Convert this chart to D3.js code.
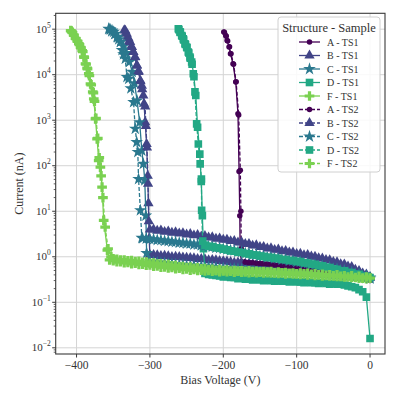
<!DOCTYPE html>
<html>
<head>
<meta charset="utf-8">
<script src="https://cdn.jsdelivr.net/npm/d3@7"></script>
<style>
body { margin: 0; background: #fff; }
text { font-family: "Liberation Serif", "DejaVu Serif", serif; fill: #333; }
</style>
</head>
<body>
<div id="chart"></div>
<script>

// voltage steps of the low-current part of each sweep (V)
const sweepV = [0,-5,-10,-15,-20,-25,-30,-35,-40,-45,-50,-55,-60,-65,-70,-75,-80,-85,-90,-95,
    -100,-105,-110,-115,-120,-125,-130,-135,-140,-145,-150,-155,-160,-165,-170,-175,-180,-185,-190,-195,
    -200,-205,-210,-215,-220,-225,-230,-235,-240,-245,-250,-255,-260,-265,-270,-275,-280,-285,-290,-295,
    -300,-305,-310,-315,-320,-325,-330,-335,-340,-345,-350,-355];

const structures = ["A", "B", "C", "D", "F"];
const samples = ["TS1", "TS2"];
const colors = ["#440154", "#414487", "#2a788e", "#22a884", "#7ad151"];

// current (nA) on the sweep steps, then [V, nA] through breakdown
const aTS1Low = [0.30,0.35,0.36,0.39,0.40,0.42,0.43,0.45,0.44,0.47,0.47,0.48,0.49,0.51,0.50,0.53,0.53,0.56,0.55,0.58,
    0.58,0.60,0.61,0.63,0.62,0.65,0.66,0.68,0.67,0.71,0.70,0.73,0.73,0.76,0.75,0.79];
const aTS1High = [[-177,1.2],[-177.5,8],[-178.5,75],[-180,1380],[-183,6900],[-186.7,17400],[-190.2,28800],
    [-192.1,40700],[-194.8,56200],[-196.6,72400],[-199.3,87100]];
const aTS2Low = [0.32,0.34,0.37,0.38,0.41,0.41,0.44,0.44,0.46,0.46,0.48,0.49,0.49,0.51,0.52,0.52,0.54,0.55,0.57,0.57,
    0.59,0.60,0.60,0.62,0.64,0.64,0.66,0.67,0.69,0.69,0.71,0.72,0.74,0.74,0.76];
const aTS2High = [[-175.5,1.5],[-176,10],[-176.8,80],[-179,1300],[-182.5,7000],[-186,17000],[-189.5,29000],
    [-191.5,41000],[-194,55000],[-196,70000],[-198.5,86000]];

const bTS1Low = [0.35,0.37,0.36,0.39,0.40,0.40,0.42,0.43,0.42,0.45,0.45,0.46,0.47,0.48,0.47,0.50,0.51,0.50,0.53,0.53,
    0.55,0.56,0.57,0.56,0.59,0.60,0.59,0.62,0.63,0.62,0.65,0.66,0.69,0.70,0.70,0.73,0.75,0.74,0.77,0.79,
    0.80,0.81,0.84,0.85,0.84,0.88,0.90,0.89,0.93,0.94,0.95,0.96,0.99,1.00,0.99,1.03,1.05,1.04,1.08,1.09,1.10];
const bTS1High = [[-301,2.5],[-302,15],[-303,60],[-304.5,300],[-306.5,900],[-308,2300],[-310.5,4800],[-313,7200],
    [-315.5,11500],[-318,16000],[-320.5,24000],[-323,32000],[-325.5,42000],[-328,55000],[-330.5,68000],
    [-333,82000],[-335,95000]];
const bTS2Low = [0.35,0.41,0.43,0.49,0.52,0.60,0.61,0.68,0.69,0.76,0.77,0.84,0.85,0.92,0.93,1.00,1.01,1.09,1.08,1.17,
    1.16,1.25,1.24,1.35,1.32,1.44,1.42,1.54,1.52,1.65,1.64,1.79,1.76,1.92,1.91,2.08,2.06,2.23,2.21,2.38,
    2.36,2.54,2.50,2.69,2.65,2.85,2.80,3.00,2.95,3.16,3.09,3.31,3.24,3.46,3.38,3.62,3.53,3.80,3.72,3.99,3.95];
const bTS2High = [[-301.5,6],[-302.5,40],[-304,250],[-305.5,750],[-306.5,2000],[-309,3500],[-311,5700],[-313,7400],
    [-315.5,12000],[-317.5,16000],[-320,24500],[-322.5,31500],[-324.5,40500],[-327,52000],[-329,62000],
    [-331.5,79000],[-333.5,93000]];

const cTS1Low = [0.33,0.34,0.35,0.36,0.36,0.37,0.38,0.37,0.39,0.40,0.40,0.41,0.42,0.42,0.43,0.43,0.44,0.45,0.44,0.45,
    0.46,0.46,0.47,0.48,0.47,0.48,0.49,0.49,0.50,0.50,0.51,0.52,0.51,0.52,0.53,0.53,0.54,0.55,0.54,0.55,
    0.56,0.56,0.58,0.59,0.60,0.60,0.62,0.61,0.63,0.63,0.64,0.66,0.66,0.68,0.69,0.70,0.72,0.73,0.75,0.76,0.78];
const cTS1High = [[-304.5,1.2],[-305.5,8],[-307,48],[-309,110],[-311,215],[-314,900],[-317.5,2700],[-321,6500],
    [-324,11500],[-328,19000],[-332,30000],[-336,42000],[-340,53000],[-344,66000],[-348,78000],[-352,90000],
    [-355.5,100000]];
const cTS2Low = [0.35,0.38,0.38,0.42,0.42,0.46,0.46,0.50,0.50,0.54,0.54,0.58,0.58,0.63,0.62,0.67,0.67,0.72,0.71,0.77,
    0.76,0.82,0.81,0.87,0.86,0.92,0.92,0.98,0.97,1.03,1.03,1.10,1.11,1.19,1.20,1.28,1.29,1.37,1.39,1.46,
    1.48,1.56,1.58,1.66,1.68,1.76,1.78,1.85,1.86,1.94,1.95,2.02,2.03,2.11,2.13,2.21,2.23,2.31,2.33,2.41,
    2.43,2.51,2.53];
const cTS2High = [[-311,2.6],[-313,10.5],[-315.5,51],[-316.5,200],[-318,330],[-320,650],[-322.3,2500],[-326,5000],
    [-329,8100],[-331.3,8900],[-333.6,22400],[-336,28000],[-338,34700],[-340.3,52500],[-342.5,60000],
    [-344.8,67600],[-347.1,79400],[-349.5,87000],[-351.6,93300],[-354,98000],[-356.2,102000]];

const dTS1Low = [0.016,0.13,0.17,0.19,0.21,0.22,0.23,0.24,0.25,0.25,0.26,0.25,0.26,0.27,0.26,0.27,0.27,0.28,0.27,0.28,
    0.28,0.29,0.28,0.29,0.29,0.30,0.29,0.30,0.31,0.30,0.31,0.32,0.31,0.33,0.32,0.34,0.33,0.35,0.35,0.37,
    0.36,0.38,0.39,0.40,0.41,0.43];
const dTS1High = [[-227,1.5],[-228.5,8],[-230,45],[-232,180],[-235,700],[-237.5,3500],[-240,9000],[-242.5,17000],
    [-245,23000],[-247,30000],[-249.5,39000],[-251.5,46000],[-254,58000],[-256,70000],[-258.5,85000],[-260.5,98000]];
const dTS2Low = [0.35,0.37,0.37,0.41,0.41,0.45,0.45,0.49,0.49,0.53,0.54,0.58,0.59,0.63,0.64,0.68,0.69,0.73,0.74,0.78,
    0.79,0.83,0.83,0.87,0.87,0.92,0.92,0.97,0.97,1.02,1.04,1.09,1.10,1.16,1.18,1.24,1.26,1.32,1.35,1.42,
    1.47,1.56,1.58,1.67,1.70,1.80];
const dTS2High = [[-228,2.2],[-229.5,10.5],[-229.8,51],[-231.5,110],[-234,300],[-236.3,830],[-238.6,4200],
    [-240.9,10500],[-243.1,19000],[-245.4,24500],[-247.7,31600],[-249.9,40700],[-252.2,47900],[-254.5,61700],
    [-256.7,72400],[-259,87100],[-261.3,102000]];

const fTS1Low = [0.35,0.33,0.36,0.34,0.37,0.35,0.38,0.36,0.38,0.37,0.39,0.38,0.40,0.38,0.41,0.39,0.42,0.40,0.43,0.41,
    0.43,0.42,0.44,0.42,0.45,0.43,0.45,0.44,0.46,0.44,0.46,0.45,0.47,0.45,0.47,0.46,0.48,0.46,0.48,0.47,
    0.49,0.47,0.50,0.48,0.50,0.49,0.51,0.50,0.53,0.51,0.54,0.53,0.56,0.55,0.58,0.57,0.60,0.59,0.63,0.62,
    0.66,0.65,0.69,0.68,0.72,0.71,0.75,0.74,0.78,0.78,0.82,0.85];
const fTS1High = [[-358,1.4],[-363,6.3],[-365.2,34],[-367.5,93],[-369.8,130],[-372,390],[-374.2,1070],[-376.5,2950],
    [-377.9,4200],[-381,6300],[-383.3,10500],[-385.5,14000],[-387.8,17400],[-390,24500],[-392.3,33900],
    [-394.5,40000],[-396.9,47900],[-399,55000],[-401.4,63100],[-404,75000],[-406.5,87000],[-408,93300]];
const fTS2Low = [0.34,0.36,0.34,0.37,0.35,0.38,0.36,0.38,0.37,0.40,0.38,0.40,0.39,0.41,0.40,0.42,0.41,0.43,0.42,0.44,
    0.42,0.44,0.43,0.45,0.44,0.46,0.44,0.47,0.45,0.47,0.46,0.48,0.46,0.49,0.47,0.49,0.48,0.50,0.48,0.51,
    0.50,0.52,0.50,0.53,0.52,0.55,0.54,0.57,0.56,0.59,0.58,0.61,0.60,0.64,0.63,0.67,0.66,0.70,0.69,0.73,
    0.72,0.76,0.75,0.79,0.78,0.82,0.81,0.85,0.85,0.88,0.90];
const fTS2High = [[-353,1.0],[-357,1.5],[-361,4.5],[-364,20],[-366.5,60],[-369,150],[-371,400],[-373.5,1100],
    [-375.5,2600],[-377,4000],[-380,6000],[-382.5,9500],[-385,13500],[-387,17000],[-389.5,24000],[-391.5,32000],
    [-394,39000],[-396,46000],[-398.5,54000],[-401,62000],[-403.5,73000],[-405.5,84000],[-407,91000]];

const lowData = {A: [aTS1Low, aTS2Low], B: [bTS1Low, bTS2Low], C: [cTS1Low, cTS2Low], D: [dTS1Low, dTS2Low], F: [fTS1Low, fTS2Low]};
const highData = {A: [aTS1High, aTS2High], B: [bTS1High, bTS2High], C: [cTS1High, cTS2High], D: [dTS1High, dTS2High], F: [fTS1High, fTS2High]};

const xTicks = [-400, -300, -200, -100, 0];
const yTicks = [-2, -1, 0, 1, 2, 3, 4, 5];

// build the series in plotting order (all TS1 first, then TS2)
let series = [];
samples.forEach((s, si) => {
    structures.forEach((st, k) => {
        let pts = lowData[st][si].map((c, i) => [sweepV[i], c]).concat(highData[st][si]);
        series.push({name: st + " - " + s, structure: st, dashed: si === 1, color: colors[k], points: pts});
    });
});

const W = 399, H = 399;
const margin = {left: 55.7, right: 14, top: 13.3, bottom: 45};

let svg = d3.select("#chart").append("svg")
    .attr("width", W).attr("height", H);

let allPts = series.flatMap(d => d.points);
let xExt = d3.extent(allPts, d => d[0]);
let xPad = (xExt[1] - xExt[0]) * 0.05;
let lyExt = d3.extent(allPts, d => Math.log10(d[1]));
let lyPad = (lyExt[1] - lyExt[0]) * 0.05;

let x = d3.scaleLinear()
    .domain([xExt[0] - xPad, xExt[1] + xPad])
    .range([margin.left, W - margin.right]);
let y = d3.scaleLog()
    .domain([Math.pow(10, lyExt[0] - lyPad), Math.pow(10, lyExt[1] + lyPad)])
    .range([H - margin.bottom, margin.top]);

let x0 = margin.left, x1 = W - margin.right, y0 = H - margin.bottom, y1 = margin.top;

// grid
let grid = svg.append("g").attr("stroke", "#d4d4d4").attr("stroke-width", 1);
xTicks.forEach(t => grid.append("line").attr("x1", x(t)).attr("x2", x(t)).attr("y1", y0).attr("y2", y1));
yTicks.forEach(t => grid.append("line").attr("x1", x0).attr("x2", x1).attr("y1", y(Math.pow(10, t))).attr("y2", y(Math.pow(10, t))));

svg.append("clipPath").attr("id", "plotClip")
    .append("rect").attr("x", x0).attr("y", y1).attr("width", x1 - x0).attr("height", y0 - y1);

const symbols = {A: d3.symbolCircle, B: d3.symbolTriangle, C: d3.symbolStar, D: d3.symbolSquare, F: d3.symbolCross};
const symSize = {A: 24, B: 46, C: 50, D: 58, F: 52};

let line = d3.line().x(d => x(d[0])).y(d => y(d[1]));
let plot = svg.append("g").attr("clip-path", "url(#plotClip)");

series.forEach(s => {
    let g = plot.append("g");
    g.append("path")
        .attr("d", line(s.points))
        .attr("fill", "none")
        .attr("stroke", s.color)
        .attr("stroke-width", 1.3)
        .attr("stroke-dasharray", s.dashed ? "4,2" : null);
    g.selectAll("path.m").data(s.points).enter()
        .append("path")
        .attr("class", "m")
        .attr("transform", d => "translate(" + x(d[0]) + "," + y(d[1]) + ")")
        .attr("d", d3.symbol().type(symbols[s.structure]).size(symSize[s.structure]))
        .attr("fill", s.color);
});

// frame
svg.append("rect")
    .attr("x", x0).attr("y", y1).attr("width", x1 - x0).attr("height", y0 - y1)
    .attr("fill", "none").attr("stroke", "#3a3a3a").attr("stroke-width", 1.1);

// x ticks
let xAxis = svg.append("g");
xTicks.forEach(t => {
    xAxis.append("line").attr("x1", x(t)).attr("x2", x(t)).attr("y1", y0).attr("y2", y0 + 3.5)
        .attr("stroke", "#3a3a3a");
    xAxis.append("text").attr("x", x(t)).attr("y", y0 + 15)
        .attr("text-anchor", "middle").attr("font-size", 11.5)
        .text(t < 0 ? "\u2212" + Math.abs(t) : t);
});

// y ticks, major and minor
let yAxis = svg.append("g");
yTicks.forEach(t => {
    let yy = y(Math.pow(10, t));
    yAxis.append("line").attr("x1", x0 - 3.5).attr("x2", x0).attr("y1", yy).attr("y2", yy).attr("stroke", "#3a3a3a");
    let label = yAxis.append("text").attr("x", x0 - 5).attr("y", yy + 3.5)
        .attr("text-anchor", "end").attr("font-size", 11);
    label.append("tspan").text("10");
    label.append("tspan").attr("dy", -5).attr("font-size", 7.5).text(t < 0 ? "\u2212" + Math.abs(t) : t);
});
let yDom = y.domain();
for (let e = -3; e <= 5; e++) {
    for (let m = 2; m <= 9; m++) {
        let v = m * Math.pow(10, e);
        if (v < yDom[0] || v > yDom[1]) continue;
        yAxis.append("line").attr("x1", x0 - 2).attr("x2", x0).attr("y1", y(v)).attr("y2", y(v))
            .attr("stroke", "#3a3a3a").attr("stroke-width", 0.8);
    }
}

// axis labels
svg.append("text")
    .attr("x", (x0 + x1) / 2).attr("y", 384)
    .attr("text-anchor", "middle").attr("font-size", 12)
    .text("Bias Voltage (V)");
svg.append("text")
    .attr("transform", "translate(23," + ((y0 + y1) / 2) + ") rotate(-90)")
    .attr("text-anchor", "middle").attr("font-size", 12)
    .text("Current (nA)");

// legend
let lg = svg.append("g").attr("transform", "translate(278,17)");
lg.append("rect").attr("width", 102).attr("height", 155).attr("rx", 3)
    .attr("fill", "#fff").attr("fill-opacity", 0.85).attr("stroke", "#d0d0d0");
lg.append("text").attr("x", 51).attr("y", 15).attr("text-anchor", "middle")
    .attr("font-size", 12.5).text("Structure - Sample");
series.forEach((s, i) => {
    let ry = 25 + i * 13.5;
    lg.append("line").attr("x1", 21).attr("x2", 42).attr("y1", ry).attr("y2", ry)
        .attr("stroke", s.color).attr("stroke-width", 1.3)
        .attr("stroke-dasharray", s.dashed ? "4,2" : null);
    lg.append("path")
        .attr("transform", "translate(31.5," + ry + ")")
        .attr("d", d3.symbol().type(symbols[s.structure]).size(symSize[s.structure]))
        .attr("fill", s.color);
    lg.append("text").attr("x", 49).attr("y", ry + 3.5).attr("font-size", 10).text(s.name);
});

</script>
</body>
</html>
